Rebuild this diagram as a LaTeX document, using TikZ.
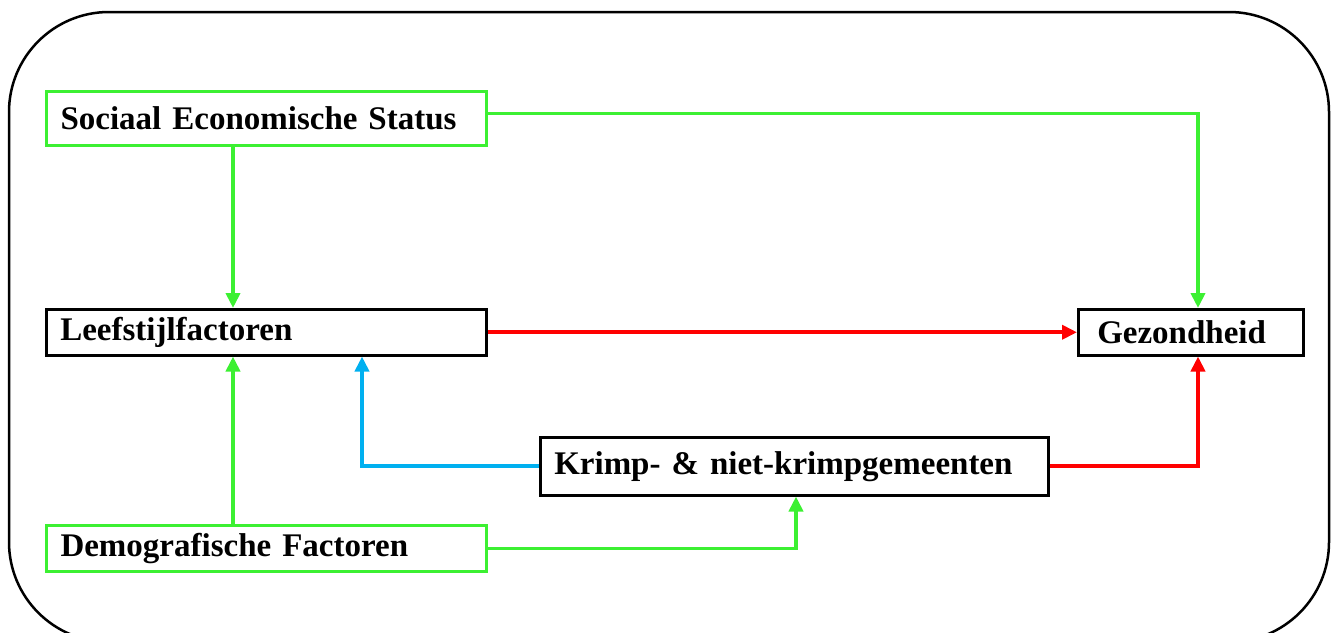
\documentclass[tikz,border=0pt]{standalone}
\usepackage{fontspec}
\setmainfont{Liberation Serif}
\usetikzlibrary{arrows.meta}
\definecolor{cgreen}{RGB}{60,240,50}
\definecolor{cred}{RGB}{255,0,0}
\definecolor{cblue}{RGB}{0,176,240}
\begin{document}
\begin{tikzpicture}[x=1pt,y=-1pt,
  box/.style={draw=black, line width=2.5pt, rectangle, inner xsep=14pt, inner ysep=0pt,
    align=left, font=\fontsize{33}{36}\selectfont\bfseries, anchor=north west},
  gbox/.style={box, draw=cgreen, line width=3pt},
  conn/.style={line width=3.8pt, -{Triangle[length=15pt,width=14pt]}}
]
\useasboundingbox (0,0) rectangle (1335,632);
\clip (0,0) rectangle (1335,632);
\draw[line width=2.5pt, rounded corners=100pt] (9,12) rectangle (1329,642);

\node[gbox, text width=412pt, minimum height=54pt] (ses) at (45,90) {Sociaal Economische Status};
\node[box, text width=412pt, minimum height=46pt] (lee) at (45,308) {Leefstijlfactoren};
\node[box, text width=197pt, minimum height=46pt] (gez) at (1077,308) {\hspace*{5pt}Gezondheid};
\node[box, text width=480pt, minimum height=58pt] (kri) at (539,436) {Krimp- \& niet-krimpgemeenten};
\node[gbox, text width=412pt, minimum height=46pt] (dem) at (45,524) {Demografische Factoren};

\draw[conn, cgreen] ([yshift=5pt]ses.east) -| (1198,0 |- gez.north);
\draw[conn, cgreen] (233,0 |- ses.south) -- (233,0 |- lee.north);
\draw[conn, cred] (lee.east) -- (gez.west);
\draw[conn, cgreen] (233,0 |- dem.north) -- (233,0 |- lee.south);
\draw[conn, cblue] (kri.west) -| (362,0 |- lee.south);
\draw[conn, cred] (kri.east) -| (1198,0 |- gez.south);
\draw[conn, cgreen] (dem.east) -| (796,0 |- kri.south);
\end{tikzpicture}
\end{document}
